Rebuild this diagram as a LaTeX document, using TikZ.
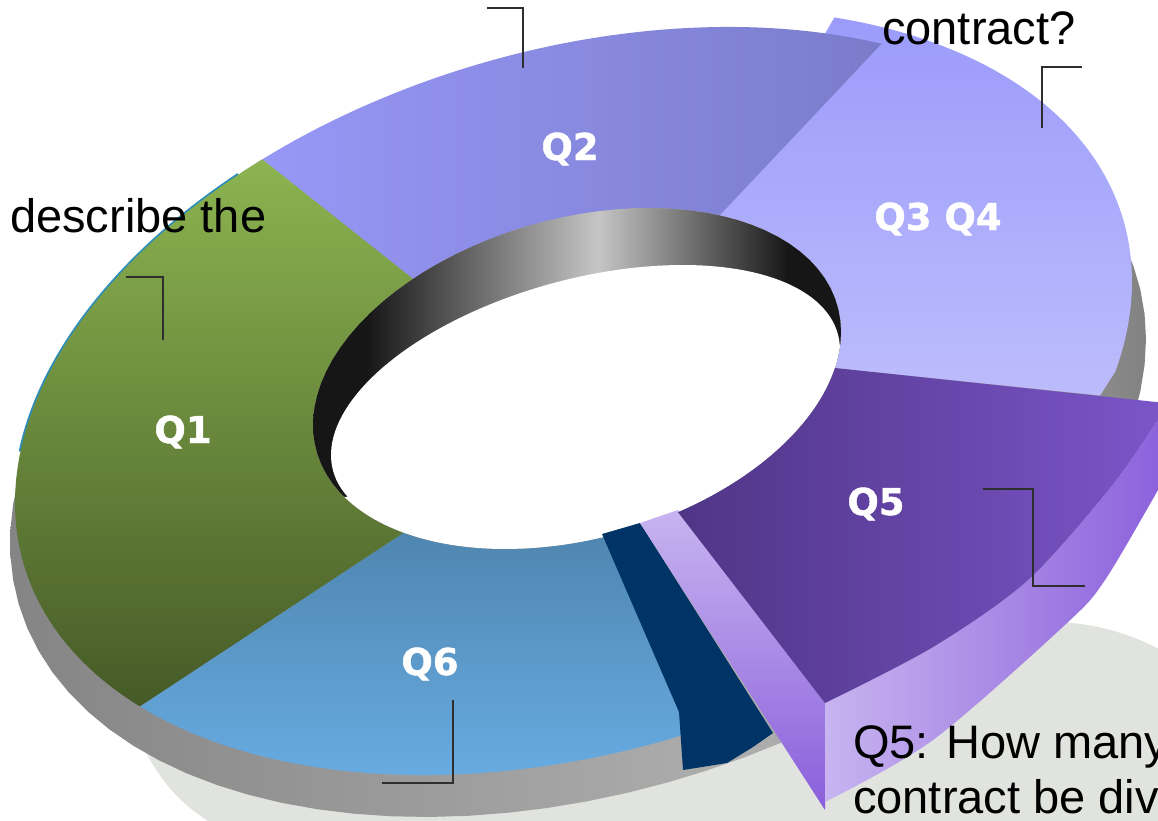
\documentclass[tikz,border=0pt]{standalone}
\usepackage{fontspec}
\setmainfont{Liberation Sans}
\newfontfamily\qfont{DejaVu Sans}[BoldFeatures={FakeBold=1.2}]
\definecolor{qonetop}{HTML}{8CB450}
\definecolor{qonebot}{HTML}{455A27}
\definecolor{qtwoleft}{HTML}{9898F8}
\definecolor{qtworight}{HTML}{7A7CCA}
\definecolor{qthreetop}{HTML}{9B9BFB}
\definecolor{qthreebot}{HTML}{BCBCFC}
\definecolor{qfivedark}{HTML}{4F3586}
\definecolor{qfivelight}{HTML}{7C56CA}
\definecolor{qfivesidehi}{HTML}{C7B4F0}
\definecolor{qfivesidelo}{HTML}{8A5EDB}
\definecolor{qsixtop}{HTML}{4F86B0}
\definecolor{qsixbot}{HTML}{67ABE1}
\definecolor{navyend}{HTML}{003466}
\definecolor{rimteal}{HTML}{2C8DB8}
\definecolor{floorgrey}{HTML}{E1E3DF}
\definecolor{wallblack}{HTML}{161616}
\definecolor{walllight}{HTML}{C6C6C6}
\definecolor{leadergrey}{HTML}{2E2E2E}
\pgfdeclarehorizontalshading{innerwall}{100bp}{color(0bp)=(wallblack); color(30bp)=(wallblack); color(52bp)=(walllight); color(70bp)=(wallblack); color(100bp)=(wallblack)}
\pgfdeclarehorizontalshading{outerwall}{100bp}{color(0bp)=(black!48); color(25bp)=(black!48); color(57bp)=(black!32); color(68bp)=(black!37); color(75bp)=(black!49); color(100bp)=(black!49)}
\tikzset{
  declare function={
    ox(\a)=576+561*cos(\a);     oy(\a)=-401+101.6*cos(\a)+360*sin(\a);
    lx(\a)=578+568*cos(\a);     ly(\a)=-441+101.6*cos(\a)+362*sin(\a);
    ix(\a)=577+264*cos(\a);     iy(\a)=-378.5+46.5*cos(\a)+164*sin(\a);
    hx(\a)=585.5+254.5*cos(\a); hy(\a)=-402.5+52.5*cos(\a)+127.1*sin(\a);
  },
  qlabel/.style={font=\qfont\bfseries\fontsize{37}{44}\selectfont, text=white,
    inner sep=0pt, anchor=base},
  callout/.style={font=\fontsize{47}{56}\selectfont, inner sep=0pt,
    anchor=base west},
  leader/.style={draw=leadergrey, line width=1.8pt},
}

\begin{document}
\begin{tikzpicture}[x=1pt, y=1pt, samples=90, variable=\t]
  \useasboundingbox (0,0) rectangle (1158,-820);
  \fill[white] (0,0) rectangle (1158,-820);
  \clip (0,0) rectangle (1158,-820);
  % floor shadow
  \fill[floorgrey] (140,-740) .. controls (158,-780) and (182,-806) .. (215,-825)
    -- (1170,-825) -- (1170,-655) .. controls (1130,-632) and (1090,-622) .. (1050,-622)
    -- (700,-700) -- cycle;
  % outer side of the ring
  \shade[shading=outerwall] plot[domain=0:360] ({lx(\t)},{ly(\t)}) -- cycle;
  % slices, top faces
  \shade[top color=qthreetop, bottom color=qthreebot]
    (1100,-395.5) -- plot[domain=-14:62] ({ox(\t)-5},{oy(\t)+18})
    -- plot[domain=57.3:-12.3] ({ix(\t)},{iy(\t)}) -- cycle;
  \shade[left color=qtwoleft, right color=qtworight]
    plot[domain=57:127] ({ox(\t)},{oy(\t)})
    -- plot[domain=128.4:57.3] ({ix(\t)},{iy(\t)}) -- cycle;
  \draw[rimteal, line width=3.5pt] plot[domain=127:172] ({ox(\t)},{oy(\t)});
  \shade[top color=qonetop, bottom color=qonebot]
    plot[domain=124:219] ({ox(\t)},{oy(\t)})
    -- plot[domain=229:128.4] ({ix(\t)},{iy(\t)}) -- cycle;
  \shade[top color=qsixtop, bottom color=qsixbot]
    plot[domain=219:281] ({ox(\t)},{oy(\t)}) -- (682,-712)
    -- plot[domain=276:229] ({ix(\t)},{iy(\t)}) -- cycle;
  % hole
  \shade[shading=innerwall] plot[domain=0:360] ({ix(\t)},{iy(\t)}) -- cycle;
  \fill[white] plot[domain=200.9:2.3] ({hx(\t)},{hy(\t)})
    -- plot[domain=355.5:208.2] ({ix(\t)},{iy(\t)}) -- cycle;
  % pulled-out slice
  \fill[navyend] (602,-534) -- (640,-523) -- (773,-733) -- (753,-747)
    -- (727,-763) -- (683,-770) -- (679,-712) -- cycle;
  \shade[top color=qfivesidehi, bottom color=qfivesidelo]
    (640,-523) -- (678,-510) -- (825,-703) -- (825,-810) -- cycle;
  \shade[left color=qfivesidehi, right color=qfivesidelo]
    plot[smooth] coordinates {(825,-703) (933,-647) (1028,-580) (1111,-487) (1158,-420) (1175,-394)}
    -- plot[smooth] coordinates {(1175,-460) (1158,-490) (1105,-580) (1067,-623) (933,-740) (825,-802)}
    -- cycle;
  \shade[left color=qfivedark, right color=qfivelight]
    plot[domain=347.7:292.5] ({ix(\t)},{iy(\t)})
    -- plot[smooth] coordinates {(825,-703) (933,-647) (1028,-580) (1111,-487) (1158,-420) (1175,-394)}
    -- (1175,-404) -- cycle;
  % labels
  \node[qlabel] (q1)   at (183,-443) {Q1};
  \node[qlabel] (q2)   at (570,-160) {Q2};
  \node[qlabel] (q34)  at (938,-230) {Q3 Q4};
  \node[qlabel] (q5)   at (876,-515) {Q5};
  \node[qlabel] (q6)   at (430,-675) {Q6};
  \draw[leader] (487,-8) -| (523,-68);
  \draw[leader] (1082,-67) -| (1042,-128);
  \draw[leader] (126,-277) -| (163,-340);
  \draw[leader] (983,-489) -| (1033,-586) -- (1085,-586);
  \draw[leader] (453,-700) |- (382,-783);
  \node[callout] (describe) at (10,-232)  {describe the};
  \node[callout] (contract) at (882,-44)  {contract?};
  \node[callout] (howmany)  at (853,-758) {Q5: How many};
  \node[callout] (divided)  at (853,-813) {contract be div};
\end{tikzpicture}
\end{document}
